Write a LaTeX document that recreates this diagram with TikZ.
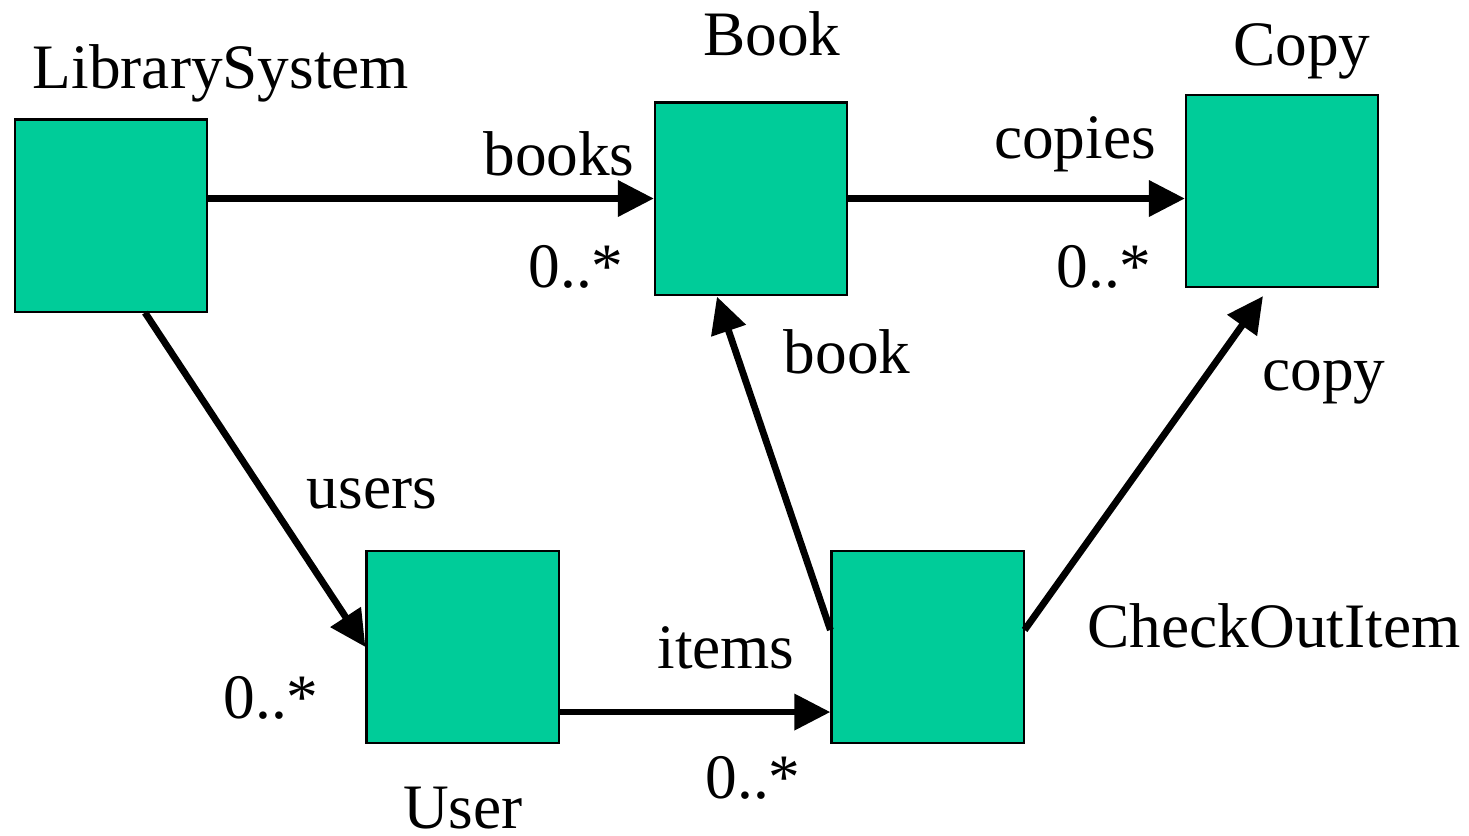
\documentclass[tikz,border=0pt]{standalone}
\usepackage{fontspec}
\setmainfont{Liberation Serif}
\usetikzlibrary{arrows.meta}
\definecolor{classfill}{HTML}{00CC99}
\begin{document}
\begin{tikzpicture}[x=0.01cm,y=-0.01cm,
  classbox/.style={draw=black,line width=0.6pt,fill=classfill,inner sep=0pt,
    minimum width=1.92cm,minimum height=1.92cm},
  assoc/.style={line width=1.95pt,-{Triangle[length=0.36cm,width=0.35cm]}},
  lbl/.style={anchor=base,inner sep=0pt,font=\fontsize{18}{21}\selectfont}]
\useasboundingbox (0,0) rectangle (1469,835);

% classes
\node[classbox] (ls) at (111,215.5) {};
\node[classbox] (book) at (751,198.5) {};
\node[classbox] (copy) at (1282,191) {};
\node[classbox] (user) at (462.5,647) {};
\node[classbox] (co) at (927.5,647) {};

% class names
\node[lbl] (lsname) at (221,88) {LibrarySystem};
\node[lbl] (bookname) at (772,55) {Book};
\node[lbl] (copyname) at (1302,65) {Copy};
\node[lbl] (username) at (463,828) {User};
\node[lbl] (coname) at (1274,647) {CheckOutItem};

% associations
\draw[assoc] (ls.east |- book) -- (book.west);
\draw[assoc] (book.east) -- (copy.west |- book.east);
\draw[assoc] ([xshift=3.4mm]ls.south) -- (user.west);
\draw[assoc] ([yshift=-6.5mm]user.east) -- ([yshift=-6.5mm]co.west);
\draw[assoc] ([yshift=1.7mm]co.west) -- ([xshift=-3.4mm,yshift=-0.1mm]book.south);
\draw[assoc] ([yshift=1.7mm]co.east) -- ([xshift=-1.9mm,yshift=-0.8mm]copy.south);

% role names and multiplicities
\node[lbl] (lbooks) at (559,175) {books};
\node[lbl] (mbooks) at (576,287) {0..*};
\node[lbl] (lcopies) at (1075,158) {copies};
\node[lbl] (mcopies) at (1104,287) {0..*};
\node[lbl] (lbook) at (847,373) {book};
\node[lbl] (lcopy) at (1324,390) {copy};
\node[lbl] (lusers) at (372,508) {users};
\node[lbl] (musers) at (271,718) {0..*};
\node[lbl] (litems) at (726,668) {items};
\node[lbl] (mitems) at (753,798) {0..*};
\end{tikzpicture}
\end{document}
